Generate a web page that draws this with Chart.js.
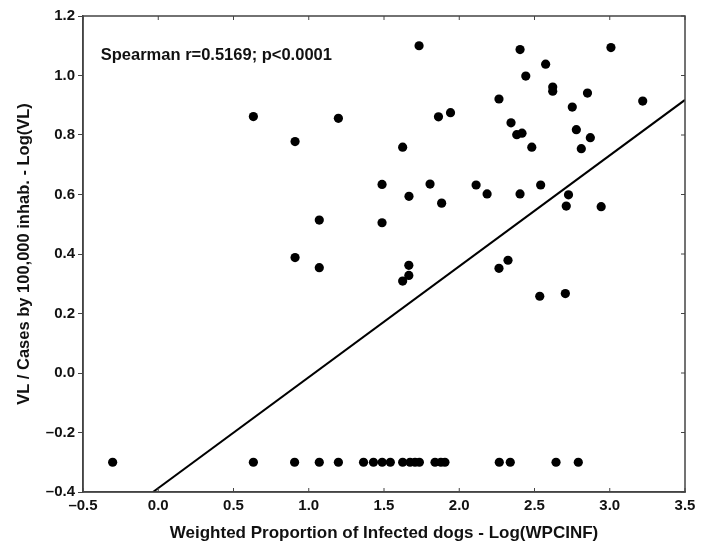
<!DOCTYPE html>
<html>
<head>
<meta charset="utf-8">
<script src="https://cdn.jsdelivr.net/npm/chart.js@4.4.1/dist/chart.umd.min.js"></script>
<style>
  html, body { margin: 0; padding: 0; background: #fff; }
  #wrap { width: 710px; height: 544px; }
</style>
</head>
<body>
<div id="wrap"><canvas id="chart"></canvas></div>
<script>
// 散布図データ（Log(WPCINF) と Log(VL)）
const wpcinfLog = [
  0.632, 0.909, 1.197, 1.070, 0.909, 1.070, 1.733, 1.624, 1.487, 1.666,
  1.806, 1.862, 1.942, 2.404, 2.574, 2.442, 2.621, 2.621, 2.852, 3.008,
  2.264, 2.751, 2.344, 2.382, 2.417, 2.482, 2.778, 2.871, 2.811, 2.112,
  2.185, 2.404, 2.541, 2.726, 1.883, 2.711, 2.943, 3.219, 1.487, 1.665,
  1.665, 1.624, 2.324, 2.264, 2.535, 2.705,
  // 下段 (VL = -0.3)
  -0.303, 0.632, 0.906, 1.070, 1.197, 1.364, 1.430, 1.488, 1.542, 1.624,
  1.673, 1.706, 1.735, 1.839, 1.878, 1.905, 2.266, 2.339, 2.643, 2.791
];
const vlLog = [
  0.862, 0.778, 0.856, 0.514, 0.388, 0.354, 1.100, 0.759, 0.634, 0.594,
  0.635, 0.861, 0.875, 1.087, 1.038, 0.998, 0.961, 0.947, 0.941, 1.094,
  0.921, 0.894, 0.841, 0.801, 0.806, 0.759, 0.818, 0.791, 0.754, 0.632,
  0.602, 0.602, 0.632, 0.599, 0.571, 0.561, 0.559, 0.914, 0.505, 0.362,
  0.328, 0.309, 0.379, 0.352, 0.258, 0.267,
  -0.3, -0.3, -0.3, -0.3, -0.3, -0.3, -0.3, -0.3, -0.3, -0.3,
  -0.3, -0.3, -0.3, -0.3, -0.3, -0.3, -0.3, -0.3, -0.3, -0.3
];

// 回帰直線の両端
const fitX = [-0.035, 3.5];
const fitY = [-0.4, 0.918];

// 軸
const xRange = [-0.5, 3.5];
const yRange = [-0.4, 1.2];
const xStep = 0.5;
const yStep = 0.2;

const xTitle = 'Weighted Proportion of Infected dogs - Log(WPCINF)';
const yTitle = 'VL / Cases by 100,000 inhab. - Log(VL)';
const noteText = 'Spearman r=0.5169; p<0.0001';
const notePos = [-0.382, 1.069];

const FONT = '"Liberation Sans", Arial, sans-serif';
const fmt = v => (v < 0 ? '\u2013' : '') + Math.abs(v).toFixed(1);

// 枠線と内向きの目盛り
const frameTicks = {
  id: 'frameTicks',
  afterDraw(chart) {
    const { ctx, chartArea: a, scales } = chart;
    ctx.save();
    ctx.strokeStyle = '#444';
    ctx.lineWidth = 1.5;
    ctx.strokeRect(a.left, a.top, a.right - a.left, a.bottom - a.top);
    ctx.lineWidth = 1;
    ctx.beginPath();
    scales.x.ticks.forEach(t => {
      const px = scales.x.getPixelForValue(t.value);
      ctx.moveTo(px, a.bottom); ctx.lineTo(px, a.bottom - 4);
      ctx.moveTo(px, a.top); ctx.lineTo(px, a.top + 4);
    });
    scales.y.ticks.forEach(t => {
      const py = scales.y.getPixelForValue(t.value);
      ctx.moveTo(a.right, py); ctx.lineTo(a.right - 4, py);
    });
    ctx.stroke();
    ctx.restore();
  }
};

// 相関係数の注記
const note = {
  id: 'note',
  afterDatasetsDraw(chart) {
    const { ctx, scales } = chart;
    ctx.save();
    ctx.font = `bold 16.5px ${FONT}`;
    ctx.fillStyle = '#111';
    ctx.textBaseline = 'middle';
    ctx.textAlign = 'left';
    ctx.fillText(noteText, scales.x.getPixelForValue(notePos[0]), scales.y.getPixelForValue(notePos[1]));
    ctx.restore();
  }
};

const points = wpcinfLog.map((x, i) => ({ x, y: vlLog[i] }));
const fitLine = fitX.map((x, i) => ({ x, y: fitY[i] }));

new Chart(document.getElementById('chart'), {
  type: 'scatter',
  data: {
    datasets: [{
      data: points,
      backgroundColor: '#000',
      borderWidth: 0,
      pointRadius: 4.6
    }, {
      type: 'line',
      data: fitLine,
      borderColor: '#000',
      borderWidth: 2,
      pointRadius: 0,
      fill: false
    }]
  },
  options: {
    responsive: true,
    maintainAspectRatio: false,
    animation: false,
    layout: { padding: { top: 16, right: 25, left: 0, bottom: 0 } },
    plugins: { legend: { display: false }, tooltip: { enabled: false } },
    scales: {
      x: {
        type: 'linear',
        min: xRange[0],
        max: xRange[1],
        afterFit: s => { s.height = 52; },
        ticks: {
          stepSize: xStep,
          callback: fmt,
          color: '#111',
          padding: 5,
          font: { family: FONT, size: 15, weight: 'bold' }
        },
        grid: { drawOnChartArea: false, drawTicks: false },
        border: { color: '#444', width: 1.5 },
        title: {
          display: true,
          text: xTitle,
          color: '#111',
          padding: { top: 0, bottom: 0 },
          font: { family: FONT, size: 17, weight: 'bold' }
        }
      },
      y: {
        type: 'linear',
        min: yRange[0],
        max: yRange[1],
        afterFit: s => { s.width = 83; },
        ticks: {
          stepSize: yStep,
          callback: fmt,
          color: '#111',
          padding: 3,
          font: { family: FONT, size: 15, weight: 'bold' }
        },
        grid: { drawOnChartArea: false, tickLength: 5, color: '#444' },
        border: { color: '#444', width: 1.5 },
        title: {
          display: true,
          text: yTitle,
          color: '#111',
          padding: { top: 15, bottom: 0 },
          font: { family: FONT, size: 16.5, weight: 'bold' }
        }
      }
    }
  },
  plugins: [frameTicks, note]
});
</script>
</body>
</html>
